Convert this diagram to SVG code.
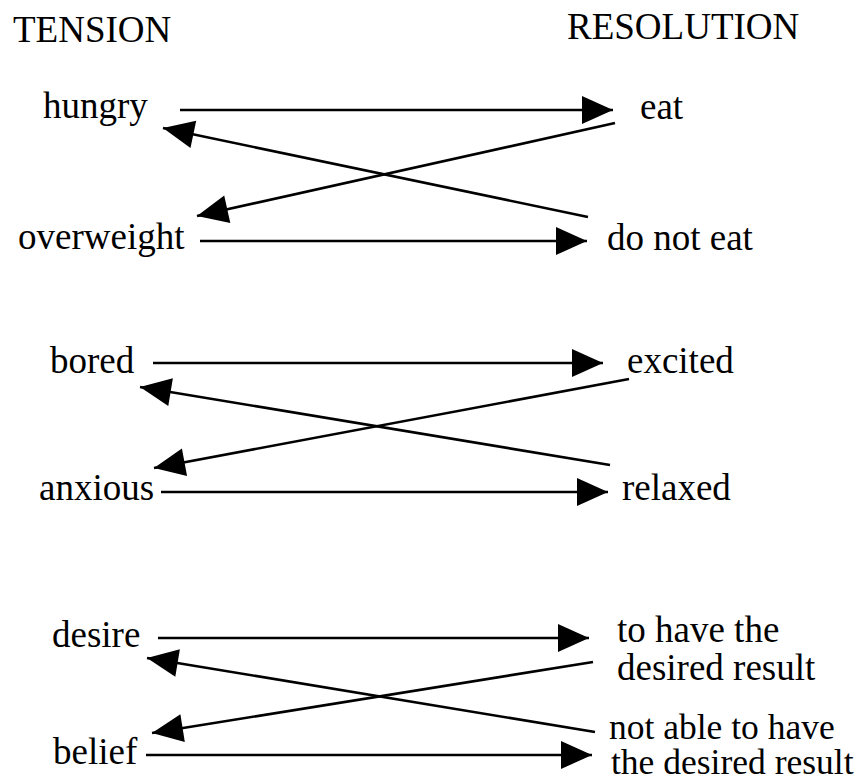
<svg xmlns="http://www.w3.org/2000/svg" width="866" height="782" viewBox="0 0 866 782">
<style>
text{font-family:"Liberation Serif","Times New Roman",Times,"DejaVu Serif",serif;font-size:37px;fill:#000}
.sm{font-size:35.5px}
.c{stroke:#000;stroke-width:2.6;fill:none;marker-end:url(#ah)}
</style>
<defs>
<marker id="ah" markerUnits="userSpaceOnUse" markerWidth="34" markerHeight="30" viewBox="0 -15 32 30" refX="31" refY="0" orient="auto">
<path d="M0,-14 L31,0 L0,14 Z" fill="#000"/>
</marker>
</defs>
<rect width="866" height="782" fill="#fff"/>
<g id="header-tension"><text x="13" y="42">TENSION</text></g>
<g id="header-resolution"><text x="567" y="39">RESOLUTION</text></g>
<g id="connectors">
<path class="c" d="M180,110 L613,110"/>
<path class="c" d="M200,241 L587,241"/>
<path class="c" d="M615,123 L197,216"/>
<path class="c" d="M588,217 L163,128"/>
<path class="c" d="M153,363 L603,363"/>
<path class="c" d="M161,492 L608,492"/>
<path class="c" d="M629,379 L154,468"/>
<path class="c" d="M610,465 L140,387"/>
<path class="c" d="M158,638 L589,638"/>
<path class="c" d="M146,755 L592,755"/>
<path class="c" d="M593,662 L152,733"/>
<path class="c" d="M595,732 L147,658"/>
</g>
<g id="hungry"><text x="43" y="118">hungry</text></g>
<g id="eat"><text x="640" y="119">eat</text></g>
<g id="overweight"><text x="18" y="249">overweight</text></g>
<g id="do-not-eat"><text x="607" y="250">do not eat</text></g>
<g id="bored"><text x="50" y="373">bored</text></g>
<g id="excited"><text x="627" y="373">excited</text></g>
<g id="anxious"><text x="39" y="500">anxious</text></g>
<g id="relaxed"><text x="622" y="500">relaxed</text></g>
<g id="desire"><text x="52" y="647">desire</text></g>
<g id="to-have"><text x="617" y="642">to have the</text><text x="617" y="680">desired result</text></g>
<g id="belief"><text x="53" y="764">belief</text></g>
<g id="not-able"><text class="sm" x="609" y="739">not able to have</text><text class="sm" x="611" y="774">the desired result</text></g>
</svg>
